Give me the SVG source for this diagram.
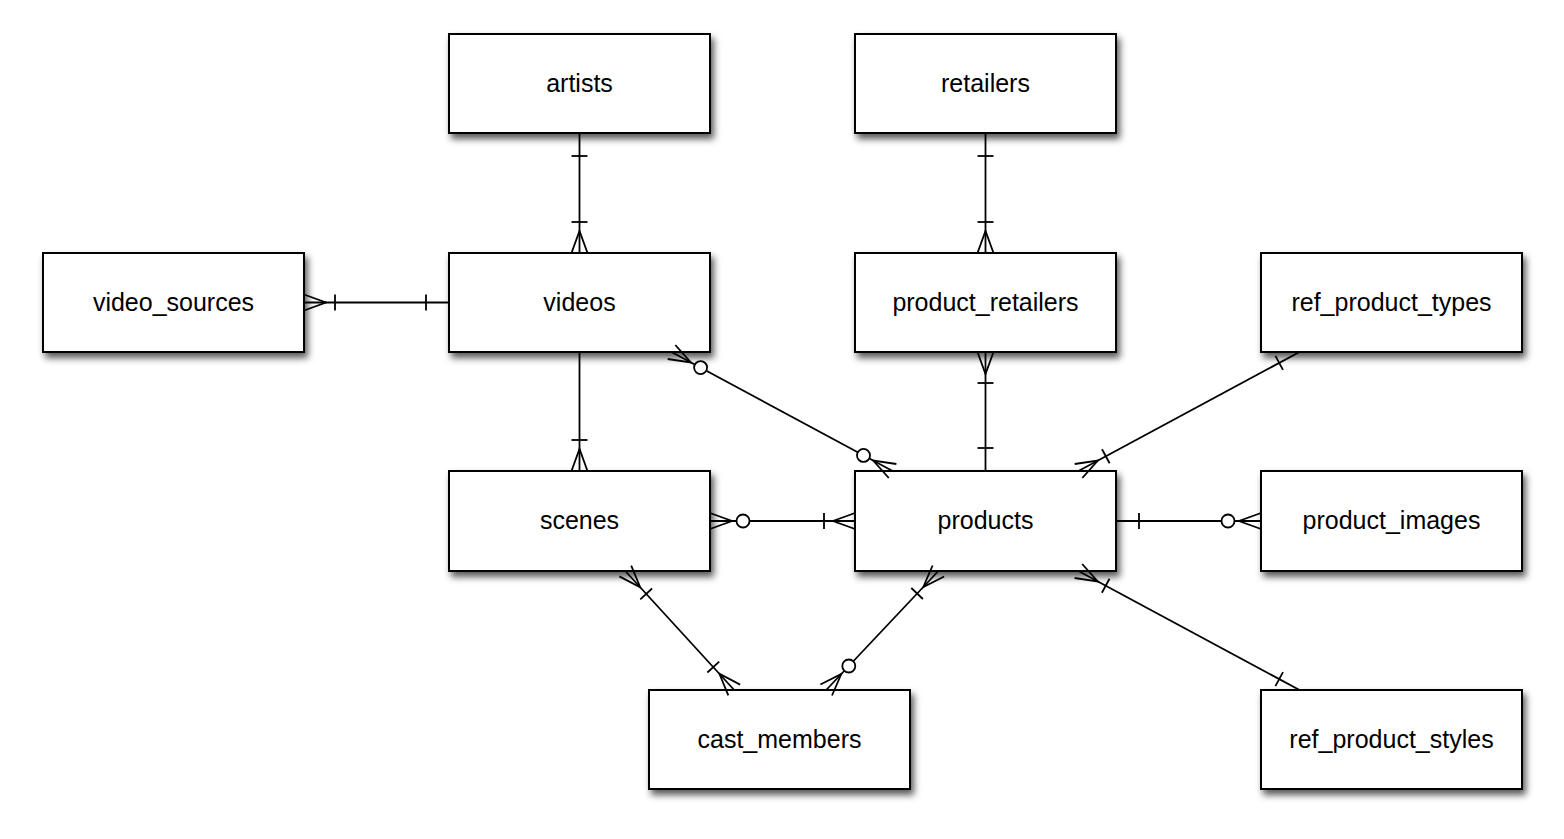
<svg xmlns="http://www.w3.org/2000/svg" width="1564" height="839" viewBox="0 0 1564 839">
<style>
.box rect{fill:#fff;stroke:#000;stroke-width:2;filter:url(#sh)}
.box text{font-family:"Liberation Sans",Arial,sans-serif;font-size:25px;text-anchor:middle;fill:#000}
#connectors line,#connectors polyline{stroke:#000;stroke-width:1.8;fill:none}
#connectors circle{fill:#fff;stroke:#000;stroke-width:1.8}
</style>
<defs>
<filter id="sh" x="-10%" y="-10%" width="125%" height="135%">
<feDropShadow dx="3" dy="5" stdDeviation="3.5" flood-color="#000" flood-opacity="0.65"/>
</filter>
</defs>
<rect width="1564" height="839" fill="#fff"/>
<g id="artists" class="box"><rect x="449" y="34" width="261" height="99"/><text x="579.5" y="92">artists</text></g>
<g id="retailers" class="box"><rect x="855" y="34" width="261" height="99"/><text x="985.5" y="92">retailers</text></g>
<g id="video_sources" class="box"><rect x="43" y="253" width="261" height="99"/><text x="173.5" y="311">video_sources</text></g>
<g id="videos" class="box"><rect x="449" y="253" width="261" height="99"/><text x="579.5" y="311">videos</text></g>
<g id="product_retailers" class="box"><rect x="855" y="253" width="261" height="99"/><text x="985.5" y="311">product_retailers</text></g>
<g id="ref_product_types" class="box"><rect x="1261" y="253" width="261" height="99"/><text x="1391.5" y="311">ref_product_types</text></g>
<g id="scenes" class="box"><rect x="449" y="471" width="261" height="100"/><text x="579.5" y="529">scenes</text></g>
<g id="products" class="box"><rect x="855" y="471" width="261" height="100"/><text x="985.5" y="529">products</text></g>
<g id="product_images" class="box"><rect x="1261" y="471" width="261" height="100"/><text x="1391.5" y="529">product_images</text></g>
<g id="cast_members" class="box"><rect x="649" y="690" width="261" height="99"/><text x="779.5" y="748">cast_members</text></g>
<g id="ref_product_styles" class="box"><rect x="1261" y="690" width="261" height="99"/><text x="1391.5" y="748">ref_product_styles</text></g>
<g id="connectors">
<!-- artists - videos -->
<line x1="579.5" y1="133" x2="579.5" y2="253"/>
<line x1="571.5" y1="156" x2="587.5" y2="156"/>
<line x1="571.5" y1="222" x2="587.5" y2="222"/>
<polyline points="571.5,253 579.5,231 587.5,253"/>
<!-- retailers - product_retailers -->
<line x1="985.5" y1="133" x2="985.5" y2="253"/>
<line x1="977.5" y1="156" x2="993.5" y2="156"/>
<line x1="977.5" y1="222" x2="993.5" y2="222"/>
<polyline points="977.5,253 985.5,231 993.5,253"/>
<!-- video_sources - videos -->
<line x1="304" y1="302.5" x2="449" y2="302.5"/>
<polyline points="304,294.5 326,302.5 304,310.5"/>
<line x1="335" y1="294.5" x2="335" y2="310.5"/>
<line x1="426" y1="294.5" x2="426" y2="310.5"/>
<!-- videos - scenes -->
<line x1="579.5" y1="352" x2="579.5" y2="471"/>
<line x1="571.5" y1="440" x2="587.5" y2="440"/>
<polyline points="571.5,471 579.5,449 587.5,471"/>
<!-- product_retailers - products -->
<line x1="985.5" y1="352" x2="985.5" y2="471"/>
<polyline points="977.5,352 985.5,374 993.5,352"/>
<line x1="977.5" y1="383" x2="993.5" y2="383"/>
<line x1="977.5" y1="448" x2="993.5" y2="448"/>
<!-- scenes - products -->
<line x1="710" y1="521" x2="855" y2="521"/>
<polyline points="710,513 732,521 710,529"/>
<circle cx="743" cy="521" r="6.5"/>
<polyline points="855,513 833,521 855,529"/>
<line x1="824" y1="513" x2="824" y2="529"/>
<!-- products - product_images -->
<line x1="1116" y1="521" x2="1261" y2="521"/>
<line x1="1139" y1="513" x2="1139" y2="529"/>
<polyline points="1261,513 1239,521 1261,529"/>
<circle cx="1228" cy="521" r="6.5"/>
<!-- videos - products -->
<line x1="671.5" y1="352" x2="892.6" y2="471"/>
<polyline points="667.7,359 690.9,362.4 675.3,345"/>
<circle cx="700.6" cy="367.6" r="6.5"/>
<polyline points="888.8,478 873.2,460.6 896.4,464"/>
<circle cx="863.5" cy="455.4" r="6.5"/>
<!-- ref_product_types - products -->
<line x1="1299.5" y1="352" x2="1078.5" y2="471"/>
<line x1="1283" y1="369.9" x2="1275.4" y2="355.9"/>
<polyline points="1082.3,478 1097.9,460.6 1074.7,464"/>
<line x1="1109.6" y1="463.3" x2="1102" y2="449.3"/>
<!-- products - ref_product_styles -->
<line x1="1078.4" y1="571" x2="1299.5" y2="690"/>
<polyline points="1074.6,578 1097.8,581.4 1082.2,564"/>
<line x1="1101.9" y1="592.7" x2="1109.5" y2="578.7"/>
<line x1="1275.4" y1="686.1" x2="1283" y2="672.1"/>
<!-- scenes - cast_members -->
<line x1="625.3" y1="571" x2="734.2" y2="690"/>
<polyline points="619.4,576.4 640.2,587.2 631.2,565.6"/>
<line x1="640.3" y1="599.3" x2="652.1" y2="588.5"/>
<polyline points="728.3,695.4 719.4,673.8 740.1,684.6"/>
<line x1="707.4" y1="672.5" x2="719.2" y2="661.7"/>
<!-- products - cast_members -->
<line x1="938.4" y1="571" x2="826.2" y2="690"/>
<polyline points="944.2,576.5 923.3,587 932.6,565.5"/>
<line x1="922.9" y1="599" x2="911.3" y2="588"/>
<polyline points="832,695.5 841.3,674 820.4,684.5"/>
<circle cx="848.8" cy="666" r="6.5"/>
</g>
</svg>
